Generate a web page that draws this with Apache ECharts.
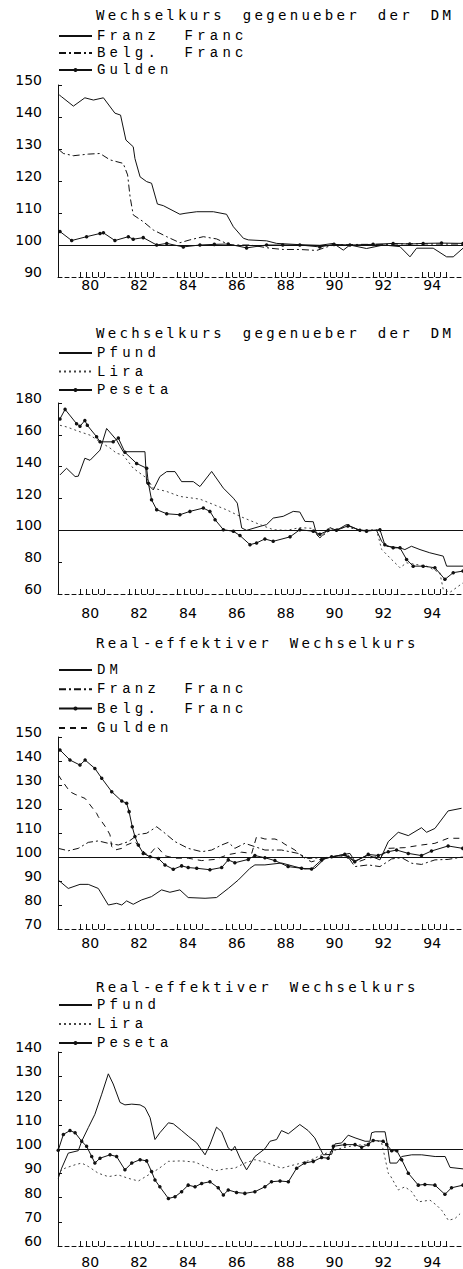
<!DOCTYPE html>
<html>
<head>
<meta charset="utf-8">
<title>Wechselkurse</title>
<script src="https://cdn.jsdelivr.net/npm/echarts@6/dist/echarts.min.js"></script>
<style>
  html, body { margin: 0; padding: 0; background: #fff; }
  .panel { position: absolute; left: 0; width: 463px; }
  /* plotter lettering: wide spacing for titles and legends */
  .panel text[style*="DejaVu Sans Mono"] { letter-spacing: 3.3px; word-spacing: 6px; }
  .panel text[style*="Liberation Mono"] { letter-spacing: 4.2px; word-spacing: 12px; }
</style>
</head>
<body>
<div id="p1" class="panel" style="top:0;height:305px"></div>
<div id="p2" class="panel" style="top:305px;height:325px"></div>
<div id="p3" class="panel" style="top:630px;height:330px"></div>
<div id="p4" class="panel" style="top:960px;height:309px"></div>
<script>
// x = Jahr (79.1 .. 95.7), y = Index
const xLabelYears = [80, 82, 84, 86, 88, 90, 92, 94];

// Wechselkurs gegenueber der DM (1)
const franzFrancNom = [[79.15,146.9],[79.25,146.3],[79.73,143.4],[80.2,146],[80.55,145.3],[80.96,146],[81.43,141.2],[81.66,140.6],[81.88,132.8],[82.18,130.7],[82.25,127],[82.46,121.3],[82.73,119.8],[82.93,119.3],[83.17,112.8],[83.41,112.3],[84.09,109.6],[84.3,109.9],[84.78,110.4],[85.46,110.4],[86.0,109.6],[86.28,105.7],[86.69,102.1],[86.89,101.6],[87.64,101.3],[88.05,100.5],[89.0,100.1],[89.82,99.9],[90.37,100.5],[90.78,98.4],[91.05,100],[91.73,98.9],[92.42,100],[93.1,99.5],[93.51,96.3],[93.78,99],[94.46,99],[95.01,96.3],[95.28,96.3],[95.68,99]];
const belgFrancNom = [[79.15,129.7],[79.32,128.6],[79.73,127.9],[80.34,128.4],[80.82,128.6],[81.23,126.6],[81.77,125.5],[81.95,121.9],[82.05,115.1],[82.18,109.4],[82.59,107.3],[83.0,104.7],[83.55,102.6],[84.09,100.7],[84.5,101.6],[85.05,102.6],[85.59,101.9],[86.14,100],[86.96,100],[87.78,99],[88.32,98.6],[89.0,98.6],[89.69,98.3],[90.03,99.2],[90.37,100],[91.5,100.2],[92.5,100.2],[93.5,100.4],[94.5,100.3],[95.68,100.3]];
const guldenNom = [[79.18,104.2],[79.66,101.4],[80.27,102.6],[80.82,103.6],[80.96,103.8],[81.43,101.4],[81.98,102.6],[82.18,101.8],[82.59,102.3],[83.14,100],[83.55,100.5],[84.23,99.4],[84.91,100],[85.5,100.2],[86.07,100.3],[86.82,99.1],[87.64,100],[88.3,100],[89.0,100],[89.82,99.4],[90.4,100.2],[91.05,100],[92.0,100.2],[92.82,100.5],[93.5,100.3],[94.05,100.5],[94.8,100.6],[95.68,100.5]];

// Wechselkurs gegenueber der DM (2)
const pfundNom = [[79.18,134.8],[79.45,139],[79.8,133.8],[79.93,134],[80.2,145.3],[80.41,144],[80.82,150.4],[81.09,164],[81.5,156.7],[81.77,149.4],[82.66,149.4],[82.73,129.6],[83.0,125.4],[83.27,133.8],[83.55,136.9],[83.89,136.9],[84.16,130.6],[84.64,130.6],[84.91,127.5],[85.39,137],[85.87,126.5],[86.28,120.2],[86.44,117.1],[86.62,101.5],[86.82,100],[87.37,102.5],[87.64,103.6],[87.91,107.7],[88.32,108.8],[88.73,111.9],[89.0,111.5],[89.21,105.6],[89.55,105.4],[89.69,97.3],[89.82,95.3],[90.23,101.7],[90.5,100],[90.91,103.6],[91.46,100],[92.14,100],[92.35,93.1],[92.55,90],[93.1,89],[93.3,87.9],[93.57,90],[93.92,87.9],[94.32,85.9],[94.87,83.8],[95.01,77.5],[95.68,77.5]];
const liraNom = [[79.18,166],[79.45,165],[80.0,161.9],[80.41,159.8],[80.82,155.6],[81.23,151.7],[81.5,148.4],[81.77,147.3],[82.18,139],[82.73,132.8],[83.0,126.5],[83.55,124.4],[84.09,121.3],[84.91,119.6],[85.32,117.1],[86.0,112.9],[86.55,108.8],[87.37,103.6],[87.91,100.4],[88.46,100],[89.0,101.7],[89.55,101.2],[89.82,95.2],[90.23,100],[90.91,102.1],[91.46,100],[92.14,100.4],[92.35,88],[92.69,82.7],[93.1,76.5],[93.37,79.6],[93.78,78.5],[94.19,77.5],[94.73,73.4],[94.87,63],[95.14,61],[95.68,67]];
const pesetaNom = [[79.18,170],[79.39,176],[79.86,167],[80.0,165.4],[80.2,169],[80.3,166],[80.68,158.8],[80.82,155.6],[81.36,155.6],[81.57,158],[81.84,149],[82.32,142],[82.73,139],[82.8,129.6],[82.93,119.2],[83.14,113],[83.55,110.4],[84.09,109.8],[84.5,111.9],[85.05,114],[85.32,111.9],[85.53,106.7],[85.87,100.4],[86.28,99.4],[86.55,96.7],[86.96,91],[87.23,92.1],[87.57,94.6],[87.91,93.1],[88.6,95.9],[89.0,100.4],[89.55,99.4],[89.82,97.5],[90.16,100],[90.5,100],[90.98,102.9],[91.46,100],[91.73,99.5],[92.28,100.4],[92.48,91],[92.82,89],[93.1,89],[93.37,81.7],[93.64,77.5],[94.05,77.5],[94.53,76.5],[94.94,69.2],[95.28,73.4],[95.68,74.4]];

// Real-effektiver Wechselkurs (3)
const dmReal = [[79.11,90.4],[79.52,86.9],[80.0,88.6],[80.34,88.6],[80.75,86.9],[81.16,80],[81.5,80.7],[81.71,80],[81.91,81.7],[82.18,80.3],[82.52,82.1],[82.93,83.5],[83.34,86.3],[83.68,85.3],[84.09,86.3],[84.43,83.1],[85.12,82.8],[85.59,83.1],[86.07,86.9],[86.48,90.4],[86.96,95.3],[87.16,96.7],[87.57,96.7],[88.25,97.5],[88.8,96],[89.2,95],[89.61,95.3],[90.03,99.4],[90.57,100.6],[91.05,101.5],[91.25,98.3],[91.8,100.8],[92.28,98.8],[92.62,106.4],[93.03,110.3],[93.44,108.9],[93.98,112.2],[94.19,110.3],[94.53,111.9],[95.07,119.2],[95.62,120.3]];
const franzFrancReal = [[79.11,103.6],[79.52,102.6],[79.93,103.6],[80.34,106.1],[80.75,106.7],[81.16,105.7],[81.57,105],[81.98,106.4],[82.39,109.4],[82.73,109.9],[83.14,112.6],[83.48,109.9],[83.89,106.4],[84.43,103.6],[84.98,102.2],[85.39,102.9],[85.8,105],[86.07,106.1],[86.34,103.6],[86.75,105.7],[87.16,104.3],[87.57,102.9],[88.25,102.9],[88.93,101.5],[89.34,99.4],[89.89,99.7],[90.43,100],[90.98,100],[91.25,96],[91.8,96.7],[92.28,96],[92.76,99.2],[93.17,99.7],[93.58,97.4],[93.98,96.9],[94.53,98.8],[95.07,99],[95.67,100]];
const belgFrancReal = [[79.18,144.6],[79.59,140.4],[80.0,138.3],[80.21,140.4],[80.61,136.9],[80.89,132.8],[81.3,127.2],[81.71,123.3],[81.91,122.4],[82.01,118.9],[82.14,112.6],[82.25,108.5],[82.39,105],[82.59,101.5],[82.87,100.1],[83.21,99.4],[83.48,96.7],[83.82,94.9],[84.16,96.3],[84.43,95.6],[84.78,95.3],[85.32,94.7],[85.8,95.6],[86.07,98.8],[86.34,97.6],[86.89,99],[87.16,100.6],[87.57,99.7],[87.98,98.5],[88.52,96],[89.07,95.3],[89.48,95],[89.89,98.8],[90.3,100.1],[90.84,101.1],[90.98,100],[91.25,98],[91.8,101.1],[92.21,100.6],[92.62,102.2],[92.96,102.9],[93.44,101.5],[93.98,100.6],[94.39,102.5],[95.07,104.6],[95.67,103.6]];
const guldenReal = [[79.11,134.2],[79.25,132],[79.59,127.2],[79.8,126.1],[80.21,124.4],[80.68,118.2],[80.75,116.8],[81.09,111.9],[81.23,109.2],[81.3,104.3],[81.43,102.9],[81.71,103.6],[81.91,105],[82.25,106.4],[82.52,103],[82.8,100.5],[83.14,104.5],[83.48,100.5],[83.89,99.5],[84.43,99.5],[84.98,98.5],[85.53,99],[86.07,101],[86.62,102],[87.03,101.5],[87.23,108.5],[87.57,107.5],[87.98,107.5],[88.19,106.7],[88.39,105.3],[88.8,102.9],[89.2,99.4],[89.48,98],[89.89,99.2],[90.3,100],[90.84,100.7],[91.11,99.5],[91.25,97.5],[91.8,99.5],[92.35,100.5],[92.62,103.6],[93.3,103.9],[93.98,105],[94.53,105.7],[95.07,107.8],[95.67,107.8]];

// Real-effektiver Wechselkurs (4)
const pfundReal = [[79.11,87.9],[79.25,92.1],[79.52,98.3],[79.93,99.3],[80.07,103.2],[80.34,108.8],[80.61,114.3],[80.89,122.6],[81.16,131],[81.36,126.8],[81.64,119.2],[81.84,118.2],[82.12,118.5],[82.46,118.2],[82.66,117.1],[82.87,112.9],[83.07,103.9],[83.27,106.7],[83.62,110.8],[83.82,110.4],[84.16,107.6],[84.43,105.3],[84.78,102.5],[85.12,97.6],[85.32,101.8],[85.59,109],[85.8,107.1],[86.07,100.4],[86.21,99.3],[86.34,101.1],[86.55,96.3],[86.82,91.4],[87.16,96.9],[87.57,100.1],[87.78,103.2],[88.05,103.9],[88.25,107.6],[88.53,106.3],[89.0,110.1],[89.34,107.6],[89.61,104.6],[89.82,100.4],[89.96,97.6],[90.3,97.8],[90.44,102.1],[90.71,102.5],[90.98,105.7],[91.26,104.6],[91.67,103.2],[91.87,103.2],[91.94,106.7],[92.08,107.1],[92.49,107.1],[92.56,103.2],[92.69,94.2],[92.97,94.2],[93.17,96.9],[93.58,97.6],[93.99,97.6],[94.54,96.9],[94.95,96.9],[95.15,92.4],[95.68,91.8]];
const liraReal = [[79.18,90.7],[79.39,92.1],[79.8,93.5],[80.07,94.2],[80.34,92.8],[80.75,90],[81.16,88.6],[81.57,89.3],[81.98,87.9],[82.39,86.8],[82.8,89.3],[83.21,91.8],[83.62,94.9],[84.16,95.1],[84.71,94.6],[85.12,92.8],[85.53,91],[85.93,91.8],[86.34,92.1],[86.75,94.2],[87.16,95.6],[87.57,94.6],[88.25,92.1],[88.66,93.2],[89.07,94.2],[89.48,95.6],[89.89,97.6],[90.3,99],[90.71,100.4],[91.26,101.5],[91.67,101.8],[92.08,103.9],[92.35,102.5],[92.49,96.2],[92.62,90],[92.69,89.3],[93.03,83.1],[93.3,84.4],[93.58,82.4],[93.85,78.2],[94.33,78.9],[94.6,76.8],[94.81,74.7],[95.08,70.6],[95.35,71.3],[95.56,73.3]];
const pesetaReal = [[79.11,99.5],[79.32,106],[79.59,107.6],[79.8,106.7],[80.07,103.2],[80.27,101.1],[80.48,96.9],[80.61,94.2],[80.82,96.2],[81.23,97.6],[81.5,96.9],[81.84,91.4],[82.12,94.2],[82.46,95.6],[82.73,95.1],[82.93,90.7],[83.07,87.2],[83.27,84.4],[83.62,79.6],[83.89,80.3],[84.16,82.4],[84.43,85.1],[84.71,84.4],[84.98,85.8],[85.32,86.5],[85.66,84],[85.87,81],[86.07,83.1],[86.41,82.1],[86.75,81.7],[87.16,82.4],[87.57,84.4],[87.84,86.5],[88.19,86.8],[88.53,86.5],[88.87,92.1],[89.2,94.2],[89.55,94.9],[89.89,96.5],[90.16,96.2],[90.37,101.1],[90.84,101.8],[91.26,101.8],[91.53,100.7],[91.8,101.8],[92.0,103.5],[92.41,103.2],[92.56,101.8],[92.76,99.3],[92.97,99.3],[93.17,95.6],[93.44,90],[93.85,85.1],[94.12,85.4],[94.53,85.1],[94.94,81.3],[95.21,84],[95.68,85.1]];

const FONT_AXIS = 'DejaVu Sans';
const FONT_TITLE = 'DejaVu Sans Mono';
const FONT_LEGEND = 'Liberation Mono';

const dashTypes = {
    solid: 'solid',
    dots: 'solid',
    dashDot: [7, 3, 2, 3],
    dotted: [2, 3],
    dashed: [6, 5]
};

function makeSeries(name, data, kind) {
    return {
        name: name,
        type: 'line',
        data: data,
        symbol: kind === 'dots' ? 'circle' : 'none',
        symbolSize: 3.5,
        showSymbol: kind === 'dots',
        lineStyle: {color: kind === 'dotted' ? '#444' : '#111', width: 1, type: dashTypes[kind]},
        itemStyle: {color: '#111'},
        emphasis: {disabled: true},
        animation: false
    };
}

function makeChart(id, cfg) {
    const chart = echarts.init(document.getElementById(id), null, {renderer: 'svg'});
    const tickValues = [];
    xLabelYears.forEach(function (y) {
        [0, 0.25, 0.5, 0.75, 1].forEach(function (q) { tickValues.push(y + q); });
    });
    const series = cfg.series.map(function (s) { return makeSeries(s[0], s[1], s[2]); });
    // Bezugslinie 100
    series[0].markLine = {
        silent: true,
        symbol: 'none',
        label: {show: false},
        lineStyle: {color: '#111', type: 'solid', width: 1},
        data: [{yAxis: 100}]
    };
    // legend: only the dotted series keep their marker in the icon
    const legendData = cfg.series.map(function (s) {
        return {name: s[0], itemStyle: {opacity: s[2] === 'dots' ? 1 : 0}};
    });
    const option = {
        animation: false,
        title: {
            text: cfg.title,
            left: 96,
            top: cfg.titleTop,
            padding: 0,
            textStyle: {fontFamily: FONT_TITLE, fontSize: 14, fontWeight: 'normal', color: '#000'}
        },
        legend: {
            orient: 'vertical',
            left: 58,
            top: cfg.legendTop,
            padding: 0,
            itemGap: cfg.legendGap,
            itemWidth: 33,
            itemHeight: 5,
            selectedMode: false,
            data: legendData,
            textStyle: {fontFamily: FONT_LEGEND, fontSize: 14, color: '#000'}
        },
        grid: {left: 58, right: 0, top: cfg.gridTop, height: cfg.gridHeight, outerBoundsMode: 'none'},
        xAxis: {
            type: 'value',
            min: 79.1,
            max: 95.68,
            splitLine: {show: false},
            axisLine: {lineStyle: {color: '#111', type: [4, 3]}},
            axisTick: {inside: true, length: 5, customValues: tickValues, lineStyle: {color: '#111'}},
            axisLabel: {
                customValues: xLabelYears.map(function (y) { return y + 0.42; }),
                formatter: function (v) { return String(Math.floor(v)); },
                margin: cfg.xLabelMargin,
                fontFamily: FONT_AXIS,
                fontSize: 14,
                color: '#000'
            }
        },
        yAxis: {
            type: 'value',
            min: cfg.yMin,
            max: cfg.yMax,
            interval: cfg.yStep,
            splitLine: {show: false},
            axisLine: {show: true, lineStyle: {color: '#111'}},
            axisTick: {show: true, inside: true, length: 4, lineStyle: {color: '#111'}},
            axisLabel: {
                margin: 16, verticalAlign: 'bottom', lineHeight: 10,
                fontFamily: FONT_AXIS, fontSize: 14, color: '#000'
            }
        },
        series: series
    };
    chart.setOption(option);
    return chart;
}

makeChart('p1', {
    title: 'Wechselkurs gegenueber der DM',
    titleTop: 8, legendTop: 29, legendGap: 3,
    gridTop: 85, gridHeight: 192, xLabelMargin: 1,
    yMin: 90, yMax: 150, yStep: 10,
    series: [
        ['Franz Franc', franzFrancNom, 'solid'],
        ['Belg. Franc', belgFrancNom, 'dashDot'],
        ['Gulden', guldenNom, 'dots']
    ]
});

makeChart('p2', {
    title: 'Wechselkurs gegenueber der DM',
    titleTop: 21, legendTop: 41, legendGap: 4.5,
    gridTop: 98, gridHeight: 191, xLabelMargin: 12,
    yMin: 60, yMax: 180, yStep: 20,
    series: [
        ['Pfund', pfundNom, 'solid'],
        ['Lira', liraNom, 'dotted'],
        ['Peseta', pesetaNom, 'dots']
    ]
});

makeChart('p3', {
    title: 'Real-effektiver Wechselkurs',
    titleTop: 6, legendTop: 33, legendGap: 5.3,
    gridTop: 107, gridHeight: 192, xLabelMargin: 7,
    yMin: 70, yMax: 150, yStep: 10,
    series: [
        ['DM', dmReal, 'solid'],
        ['Franz Franc', franzFrancReal, 'dashDot'],
        ['Belg. Franc', belgFrancReal, 'dots'],
        ['Gulden', guldenReal, 'dashed']
    ]
});

makeChart('p4', {
    title: 'Real-effektiver Wechselkurs',
    titleTop: 20, legendTop: 38, legendGap: 5,
    gridTop: 92, gridHeight: 194, xLabelMargin: 9,
    yMin: 60, yMax: 140, yStep: 10,
    series: [
        ['Pfund', pfundReal, 'solid'],
        ['Lira', liraReal, 'dotted'],
        ['Peseta', pesetaReal, 'dots']
    ]
});
</script>
</body>
</html>
